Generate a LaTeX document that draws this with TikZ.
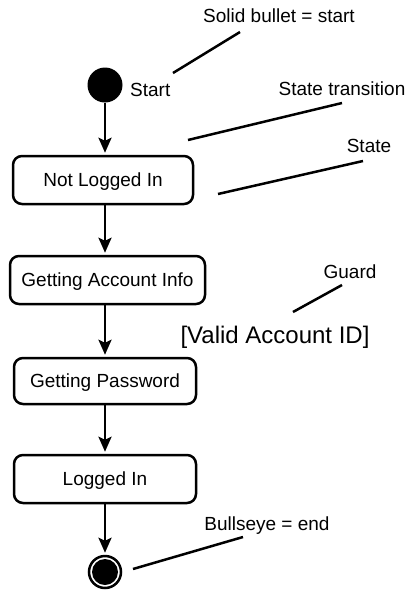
\documentclass[tikz,border=0pt]{standalone}
\usepackage{fontspec}
\setmainfont{Liberation Sans}
\usetikzlibrary{arrows.meta}
\begin{document}
\begin{tikzpicture}[x=1pt,y=-1pt,
  lbl/.style={font=\fontsize{19}{22}\selectfont, inner sep=0pt},
  statebox/.style={draw, line width=2.5pt, rounded corners=9pt, inner sep=0pt,
    font=\fontsize{19}{22}\selectfont, text height=13.6pt, text depth=0pt},
  arr/.style={line width=2.5pt, shorten >=2pt, -{Stealth[length=15pt,width=13pt,inset=3pt]}},
  note/.style={line width=2.5pt}]
\useasboundingbox (0,0) rectangle (408,590);
% start
\node[circle, fill=black, minimum size=35pt, inner sep=0pt] (start) at (105,85) {};
\node[lbl, anchor=base west] (startlbl) at (130,96) {Start};
% states
\node[statebox, minimum width=180pt, minimum height=48pt] (nli) at (103,180) {Not Logged In};
\node[statebox, minimum width=195pt, minimum height=48pt] (gai) at (107.5,280) {Getting Account Info};
\node[statebox, minimum width=182pt, minimum height=46pt] (gp) at (105,381) {Getting Password};
\node[statebox, minimum width=182pt, minimum height=48pt] (li) at (105,479) {Logged In};
% end
\node[circle, draw, line width=2.5pt, minimum size=32pt, inner sep=0pt] (endo) at (105,572) {};
\node[circle, fill=black, minimum size=26pt, inner sep=0pt] (endi) at (105,572) {};
% transitions
\draw[arr] (start) -- (start |- nli.north);
\draw[arr] (nli.south -| start) -- (gai.north -| start);
\draw[arr] (gai.south -| start) -- (gp.north -| start);
\draw[arr] (gp.south -| start) -- (li.north -| start);
\draw[arr] (li.south -| start) -- (endo.north);
% annotations
\node[lbl, anchor=base] (n1) at (279,22) {Solid bullet = start};
\node[lbl, anchor=base] (n2) at (342,95) {State transition};
\node[lbl, anchor=base] (n3) at (369,152) {State};
\node[lbl, anchor=base] (n4) at (350,278) {Guard};
\node[inner sep=0pt, anchor=base, font=\fontsize{24}{28}\selectfont] (guard) at (275,343) {[Valid Account ID]};
\node[lbl, anchor=base] (n5) at (267,530) {Bullseye = end};
\coordinate (a1) at (240,32); \coordinate (b1) at (173,73);
\coordinate (a2) at (342,103); \coordinate (b2) at (188,140);
\coordinate (a3) at (363,161); \coordinate (b3) at (218,194);
\coordinate (a4) at (342,285); \coordinate (b4) at (293,312);
\coordinate (a5) at (243,537); \coordinate (b5) at (133,569);
\draw[note] (a1) -- (b1);
\draw[note] (a2) -- (b2);
\draw[note] (a3) -- (b3);
\draw[note] (a4) -- (b4);
\draw[note] (a5) -- (b5);
\end{tikzpicture}
\end{document}
